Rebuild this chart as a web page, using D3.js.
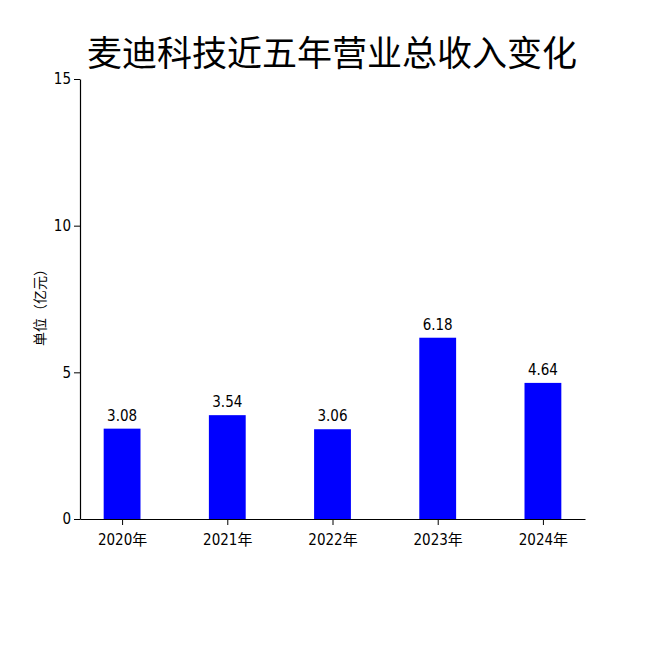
<!DOCTYPE html>
<html><head><meta charset="utf-8">
<script src="https://cdn.jsdelivr.net/npm/d3@7"></script>
<style>body{margin:0;background:#fff}text{font-family:"DejaVu Sans","Noto Sans CJK SC";font-stretch:condensed}</style>
</head><body><script>
var years = ["2020年","2021年","2022年","2023年","2024年"];
var revenue = [3.08, 3.54, 3.06, 6.18, 4.64];
var yTicks = [0, 5, 10, 15];

var w = 650, h = 650;
var svg = d3.select("body").append("svg").attr("width", w).attr("height", h);

var x = d3.scaleLinear().domain([-0.4, 4.4]).range([80, 585]);
var y = d3.scaleLinear().domain([0, 15]).range([519, 79]);
var barW = x(0.35) - x(0);

svg.append("text").attr("x", 332).attr("y", 66).attr("text-anchor", "middle")
  .style("font-family", "Noto Sans CJK SC").style("font-size", "35px").text("麦迪科技近五年营业总收入变化");

svg.selectAll("rect").data(revenue).enter().append("rect")
  .attr("x", function(d, i) { return x(i) - barW / 2; })
  .attr("y", function(d) { return y(d); })
  .attr("width", barW)
  .attr("height", function(d) { return y(0) - y(d); })
  .attr("fill", "#0000ff");

svg.selectAll(".lbl").data(revenue).enter().append("text")
  .attr("x", function(d, i) { return x(i); })
  .attr("y", function(d) { return y(d) - 8; })
  .attr("text-anchor", "middle").style("font-size", "15px")
  .text(function(d) { return d.toFixed(2); });

var xAxis = svg.append("g").attr("transform", "translate(0,519)")
  .call(d3.axisBottom(x).tickValues([0,1,2,3,4]).tickFormat(function(d) { return years[d]; }).tickSizeOuter(0));
var yAxis = svg.append("g").attr("transform", "translate(80,0)")
  .call(d3.axisLeft(y).tickValues(yTicks).tickSizeOuter(0));
[xAxis, yAxis].forEach(function(g) {
  g.selectAll("text").style("font-size", "15px").style("font-family", "DejaVu Sans, Noto Sans CJK SC");
  g.select(".domain").attr("stroke-width", 1.2);
});
xAxis.selectAll("text").attr("dy", "1.1em");

svg.append("text").attr("transform", "translate(45,304) rotate(-90)")
  .attr("text-anchor", "middle").style("font-size", "14px").text("单位（亿元）");
</script></body></html>
